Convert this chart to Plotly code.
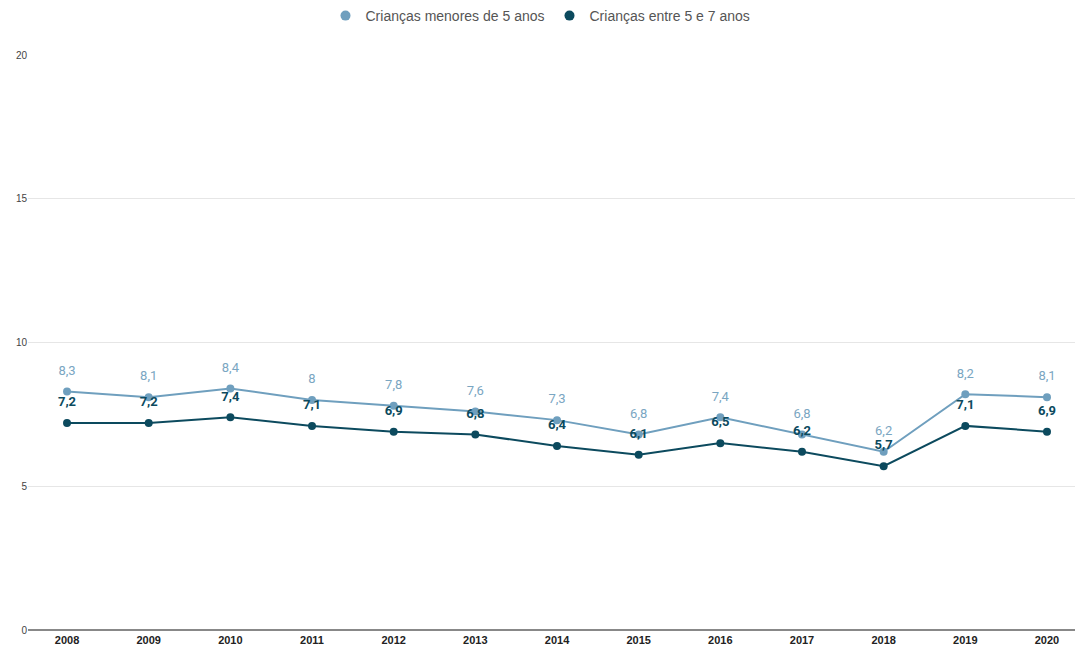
import plotly.graph_objects as go

years = ["2008", "2009", "2010", "2011", "2012", "2013", "2014", "2015", "2016", "2017", "2018", "2019", "2020"]
menores5 = [8.3, 8.1, 8.4, 8.0, 7.8, 7.6, 7.3, 6.8, 7.4, 6.8, 6.2, 8.2, 8.1]
entre5e7 = [7.2, 7.2, 7.4, 7.1, 6.9, 6.8, 6.4, 6.1, 6.5, 6.2, 5.7, 7.1, 6.9]
yticks = [0, 5, 10, 15, 20]

light = "#6f9fbe"
dark = "#0c4a5e"
light_label = "#7aa6c2"

def fmt(v):
    return ("%g" % v).replace(".", ",")

fig = go.Figure()
series = [
    ("Crianças menores de 5 anos", menores5, light, light_label, False),
    ("Crianças entre 5 e 7 anos", entre5e7, dark, dark, True),
]
for name, vals, col, lcol, bold in series:
    fig.add_trace(go.Scatter(
        x=years, y=vals, name=name, mode="lines+markers",
        line=dict(color=col, width=2), marker=dict(color=col, size=8),
        showlegend=False,
    ))
# data labels: invisible larger markers push text further above each point
for name, vals, col, lcol, bold in series:
    texts = [("<b>%s</b>" % fmt(v)) if bold else fmt(v) for v in vals]
    fig.add_trace(go.Scatter(
        x=years, y=vals, name=name, mode="markers+text",
        marker=dict(color="rgba(0,0,0,0)", size=20),
        text=texts, textposition="top center",
        textfont=dict(family="Roboto", size=13, color=lcol),
        showlegend=False, hoverinfo="skip",
    ))
for name, vals, col, lcol, bold in series:
    fig.add_trace(go.Scatter(
        x=[None], y=[None], name=name, mode="markers",
        marker=dict(color=col, size=10), showlegend=True,
    ))

fig.update_layout(
    width=1081, height=651,
    margin=dict(l=28, r=6, t=55, b=21),
    paper_bgcolor="white", plot_bgcolor="white",
    font=dict(family="Roboto", color="#444"),
    showlegend=True,
    legend=dict(orientation="h", x=0.5, xref="container", xanchor="center",
                y=1.0, yref="container", yanchor="top",
                font=dict(family="Arial", size=14, color="#555"), traceorder="normal",
                itemwidth=30),
    xaxis=dict(type="category", range=[-0.478, 12.343], showgrid=False,
               tickfont=dict(family="Arial", size=11, color="#222"),
               ticks="", ticklabelstandoff=2),
    yaxis=dict(range=[0, 20], tickvals=yticks, ticktext=[str(v) for v in yticks],
               showgrid=True, gridcolor="#e6e6e6", gridwidth=1,
               zeroline=True, zerolinecolor="#888", zerolinewidth=1.5,
               tickfont=dict(family="Arial", size=10, color="#444"), ticks=""),
)
fig.update_xaxes(tickprefix="<b>", ticksuffix="</b>")

fig.write_html("out.html")
